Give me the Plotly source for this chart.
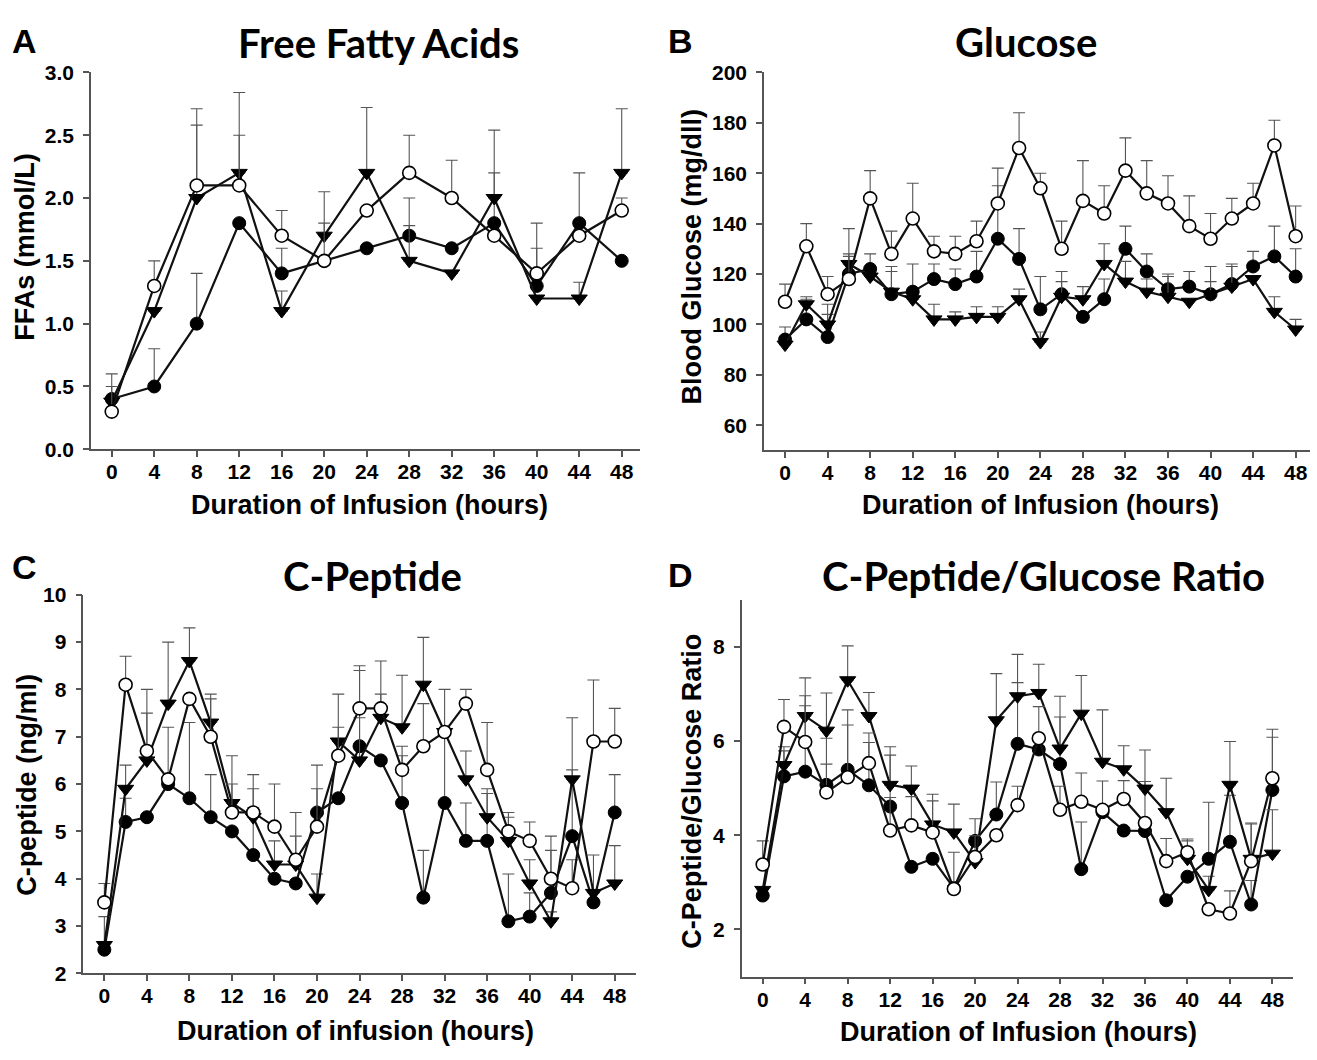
import plotly.graph_objects as go

W, H = 1317, 1060

# ---------------- DATA ----------------
hours_4 = list(range(0, 49, 4))
hours_2 = list(range(0, 49, 2))

# A: Free fatty acids (mmol/L)
ffa_filled = [0.4, 0.5, 1.0, 1.8, 1.4, 1.5, 1.6, 1.7, 1.6, 1.8, 1.3, 1.8, 1.5]
ffa_filled_err = [0.2, 0.3, 0.4, None, 0.2, None, None, 0.3, None, 0.4, 0.3, 0.4, None]
ffa_tri = [0.38, 1.1, 2.0, 2.2, 1.1, 1.7, 2.2, 1.5, 1.4, 2.0, 1.2, 1.2, 2.2]
ffa_tri_err = [None, None, 0.58, 0.64, 0.16, 0.35, 0.52, 0.28, None, 0.54, None, 0.13, 0.51]
ffa_open = [0.3, 1.3, 2.1, 2.1, 1.7, 1.5, 1.9, 2.2, 2.0, 1.7, 1.4, 1.7, 1.9]
ffa_open_err = [0.2, 0.2, 0.61, 0.4, 0.2, 0.3, None, 0.3, 0.3, None, 0.4, None, 0.1]

# B: Blood glucose (mg/dl)
glu_filled = [94, 102, 95, 120, 122, 112, 113, 118, 116, 119, 134, 126, 106,
              112, 103, 110, 130, 121, 114, 115, 112, 116, 123, 127, 119]
glu_filled_err = [5, 8, 13, 7, 6, 11, 11, 6, 6, 10, 21, 12, 13,
                  9, None, 8, 9, 7, 6, 6, 11, 8, 6, 12, 11]
glu_tri = [92, 108, 100, 124, 119, 113, 110, 102, 102, 103, 103, 110, 93,
           111, 110, 124, 117, 113, 111, 109, 112, 115, 118, 105, 98]
glu_tri_err = [None, 3, 4, 14, None, 8, None, 6, 3, 4, 4, 4, 4,
               6, 5, 8, 8, 5, 8, None, 5, 8, None, 6, 4]
glu_open = [109, 131, 112, 118, 150, 128, 142, 129, 128, 133, 148, 170, 154,
            130, 149, 144, 161, 152, 148, 139, 134, 142, 148, 171, 135]
glu_open_err = [7, 9, 7, 10, 11, 9, 14, 6, 7, 8, 14, 14, 6,
                11, 16, 11, 13, 13, 11, 12, 10, 8, 8, 10, 12]

# C: C-peptide (ng/ml)
cp_filled = [2.5, 5.2, 5.3, 6.0, 5.7, 5.3, 5.0, 4.5, 4.0, 3.9, 5.4, 5.7, 6.8,
             6.5, 5.6, 3.6, 5.6, 4.8, 4.8, 3.1, 3.2, 3.7, 4.9, 3.5, 5.4]
cp_filled_err = [None, 0.5, None, None, 1.6, 0.9, None, 1.0, None, None, 1.0, None, 1.6,
                 None, 1.0, 1.0, 2.4, 0.8, 1.0, 1.0, 0.5, 0.9, 1.4, 1.0, 0.8]
cp_tri = [2.6, 5.9, 6.5, 7.7, 8.6, 7.3, 5.6, 5.3, 4.3, 4.3, 3.6, 6.9, 6.5,
          7.4, 7.2, 8.1, 7.1, 6.1, 5.3, 4.8, 3.9, 3.1, 6.1, 3.7, 3.9]
cp_tri_err = [0.6, 0.5, 1.5, 1.3, 0.7, 0.6, 1.0, 0.6, 0.5, 0.6, 0.5, 1.0, 0.9,
              0.5, 1.1, 1.0, None, 0.6, 0.6, 0.5, 0.5, 0.2, 1.3, None, 0.8]
cp_open = [3.5, 8.1, 6.7, 6.1, 7.8, 7.0, 5.4, 5.4, 5.1, 4.4, 5.1, 6.6, 7.6,
           7.6, 6.3, 6.8, 7.1, 7.7, 6.3, 5.0, 4.8, 4.0, 3.8, 6.9, 6.9]
cp_open_err = [0.4, 0.6, 0.8, 1.1, None, 0.8, 0.6, 0.8, 0.9, 1.0, 0.8, 0.6, 0.9,
               1.0, 0.5, 0.9, None, 0.3, 1.0, 0.4, 0.4, 0.9, 0.6, 1.3, 0.7]

# D: C-peptide / glucose ratio
rat_filled = [2.72, 5.25, 5.35, 5.07, 5.39, 5.06, 4.61, 3.33, 3.50, 2.88, 3.88, 4.44, 5.94,
              5.82, 5.51, 3.28, 4.49, 4.10, 4.09, 2.62, 3.12, 3.50, 3.86, 2.53, 4.96]
rat_filled_err = [None, 0.54, 1.4, 0.99, 1.27, 0.91, 1.09, None, None, None, 0.47, 0.69, 1.3,
                  None, 1.0, 1.0, None, None, 1.05, None, None, 1.2, 0.99, 0.51, 1.12]
rat_tri = [2.84, 5.49, 6.53, 6.22, 7.29, 6.53, 5.07, 4.99, 4.23, 4.06, 3.43, 6.44, 6.95,
           7.02, 5.84, 6.58, 5.56, 5.40, 4.99, 4.49, 3.50, 2.84, 5.07, 3.50, 3.61]
rat_tri_err = [None, 0.39, 0.81, 0.8, 0.73, 0.5, 0.81, 0.48, 0.64, 0.6, None, 0.99, 0.89,
               0.61, 1.11, 0.81, 1.1, 0.5, 0.82, 0.72, 0.38, 0.29, 0.92, 0.76, 0.93]
rat_open = [3.38, 6.30, 5.98, 4.91, 5.23, 5.53, 4.10, 4.21, 4.06, 2.86, 3.54, 4.00, 4.64,
            6.06, 4.54, 4.71, 4.54, 4.77, 4.26, 3.45, 3.64, 2.43, 2.34, 3.45, 5.21]
rat_open_err = [0.5, 0.58, 0.98, 0.6, 1.11, 0.64, 0.7, 0.61, 0.67, 0.78, 0.45, None, 0.4,
                0.67, 0.5, 0.61, 0.61, 0.39, None, 0.48, 0.28, None, 0.48, 0.79, 1.04]

x_ticks = list(range(0, 49, 4))
ffa_ticks = [0.0, 0.5, 1.0, 1.5, 2.0, 2.5, 3.0]
glu_ticks = [60, 80, 100, 120, 140, 160, 180, 200]
cp_ticks = [2, 3, 4, 5, 6, 7, 8, 9, 10]
rat_ticks = [2, 4, 6, 8]

panel_titles = ["Free Fatty Acids", "Glucose", "C-Peptide", "C-Peptide/Glucose Ratio"]
x_titles = ["Duration of Infusion (hours)", "Duration of Infusion (hours)",
            "Duration of infusion (hours)", "Duration of Infusion (hours)"]
y_titles = ["FFAs (mmol/L)", "Blood Glucose (mg/dll)", "C-peptide (ng/ml)",
            "C-Peptide/Glucose Ratio"]
panel_letters = ["A", "B", "C", "D"]

# ---------------- FIGURE ----------------
fig = go.Figure()

LINE_C = "#111111"
ERR_C = "#555555"


def px_x(p):
    return p / W


def px_y(p):
    return 1 - p / H


def add_series(xs, ys, errs, kind, xa, ya):
    if kind == "filled":
        marker = dict(symbol="circle", size=13, color="black",
                      line=dict(color="black", width=1))
    elif kind == "tri":
        marker = dict(symbol="triangle-down", size=14, color="black",
                      line=dict(color="black", width=1))
    else:
        marker = dict(symbol="circle", size=13, color="white",
                      line=dict(color="black", width=1.6))
    fig.add_trace(go.Scatter(
        x=xs, y=ys, xaxis=xa, yaxis=ya, mode="lines+markers",
        line=dict(color=LINE_C, width=2.2), marker=marker,
        error_y=dict(type="data", symmetric=False, array=errs,
                     arrayminus=[0 if e is not None else None for e in errs],
                     color=ERR_C, thickness=1.1, width=6),
        showlegend=False, hoverinfo="x+y"))


panels = [
    (hours_4, [(ffa_filled, ffa_filled_err, "filled"), (ffa_tri, ffa_tri_err, "tri"),
               (ffa_open, ffa_open_err, "open")]),
    (hours_2, [(glu_filled, glu_filled_err, "filled"), (glu_tri, glu_tri_err, "tri"),
               (glu_open, glu_open_err, "open")]),
    (hours_2, [(cp_filled, cp_filled_err, "filled"), (cp_tri, cp_tri_err, "tri"),
               (cp_open, cp_open_err, "open")]),
    (hours_2, [(rat_filled, rat_filled_err, "filled"), (rat_tri, rat_tri_err, "tri"),
               (rat_open, rat_open_err, "open")]),
]

for i, (xs, series) in enumerate(panels):
    suffix = "" if i == 0 else str(i + 1)
    for ys, errs, kind in series:
        add_series(xs, ys, errs, kind, "x" + suffix, "y" + suffix)

# panel geometry (pixels): left, right, top, bottom
geom = [
    dict(l=91, r=640, t=61.7, b=447.0, xr=[-1.95, 49.72], yr=[0, 3], yt=ffa_ticks, fmt=".1f"),
    dict(l=764, r=1310, t=61.7, b=448.2, xr=[-1.98, 49.35], yr=[50, 200], yt=glu_ticks, fmt="d"),
    dict(l=83.3, r=636, t=595.7, b=982.7, xr=[-1.98, 50.0], yr=[2, 10], yt=cp_ticks, fmt="d"),
    dict(l=741.7, r=1293.3, t=600.7, b=986.0, xr=[-1.98, 49.97], yr=[1, 9], yt=rat_ticks, fmt="d"),
]

TICK_FONT = dict(family="Liberation Sans, Arial, sans-serif", size=21, color="black", weight="bold")
AX_C = "#555555"

layout_axes = {}
for i, g in enumerate(geom):
    suffix = "" if i == 0 else str(i + 1)
    layout_axes["xaxis" + suffix] = dict(
        domain=[px_x(g["l"]), px_x(g["r"])], range=g["xr"], anchor="y" + suffix,
        tickmode="array", tickvals=x_ticks, ticks="outside", ticklen=6, tickwidth=1.5,
        tickcolor=AX_C, showline=True, linecolor=AX_C, linewidth=1.5,
        showgrid=False, zeroline=False, tickfont=TICK_FONT, ticklabelstandoff=-3)
    layout_axes["yaxis" + suffix] = dict(
        domain=[px_y(g["b"]), px_y(g["t"])], range=g["yr"], anchor="x" + suffix,
        tickmode="array", tickvals=g["yt"], tickformat=g["fmt"], ticks="outside",
        ticklen=6, tickwidth=1.5, tickcolor=AX_C, showline=True, linecolor=AX_C,
        linewidth=1.5, showgrid=False, zeroline=False, tickfont=TICK_FONT,
        ticklabelstandoff=5)

annotations = []
TITLE_FONT = dict(family="Lato, Open Sans, sans-serif", size=40, color="black", weight="bold")
AXT_FONT = dict(family="Liberation Sans, Arial, sans-serif", size=27, color="black", weight="bold")
LET_FONT = dict(family="Liberation Sans, Arial, sans-serif", size=34, color="black", weight="bold")

title_pos = [(378, 32), (1026, 31), (372, 577), (1043, 577)]
xt_pos = [(369, 504), (1040, 504), (355, 1042), (1018, 1043)]
yt_pos = [(25, 240), (692, 250), (27, 790), (692, 797)]
let_pos = [(24, 30), (680, 30), (24, 567), (680, 575)]

for i in range(4):
    annotations.append(dict(text=panel_titles[i], x=px_x(title_pos[i][0]), y=px_y(title_pos[i][1]),
                            xref="paper", yref="paper", showarrow=False, font=TITLE_FONT,
                            xanchor="center", yanchor="middle"))
    annotations.append(dict(text=x_titles[i], x=px_x(xt_pos[i][0]), y=px_y(xt_pos[i][1]),
                            xref="paper", yref="paper", showarrow=False, font=AXT_FONT,
                            xanchor="center", yanchor="middle"))
    annotations.append(dict(text=y_titles[i], x=px_x(yt_pos[i][0]), y=px_y(yt_pos[i][1]),
                            xref="paper", yref="paper", showarrow=False, font=AXT_FONT,
                            textangle=-90, xanchor="center", yanchor="middle"))
    annotations.append(dict(text=panel_letters[i], x=px_x(let_pos[i][0]), y=px_y(let_pos[i][1]),
                            xref="paper", yref="paper", showarrow=False, font=LET_FONT,
                            xanchor="center", yanchor="middle"))

fig.update_layout(
    width=W, height=H, margin=dict(l=0, r=0, t=0, b=0),
    paper_bgcolor="white", plot_bgcolor="white",
    showlegend=False, annotations=annotations, **layout_axes)

fig.write_html("out.html", include_plotlyjs=True, config={"displayModeBar": False},
               post_script="document.body.style.margin='0';document.body.style.padding='0';"
                           "document.documentElement.style.overflow='hidden';")
